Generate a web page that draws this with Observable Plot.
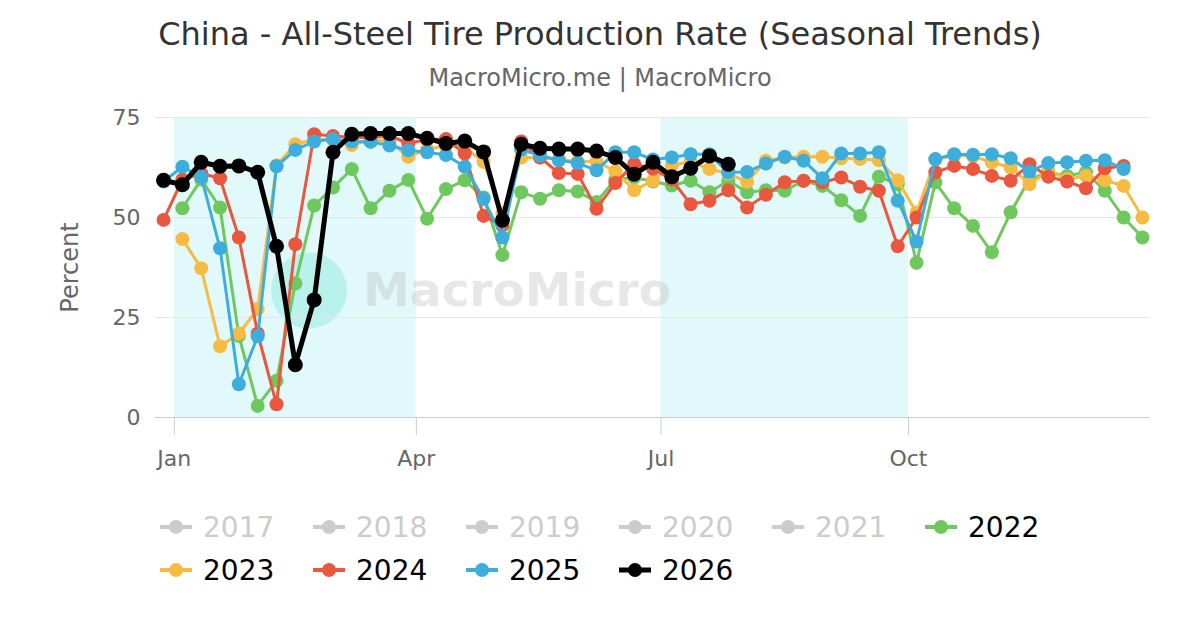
<!DOCTYPE html>
<html><head><meta charset="utf-8">
<script src="https://cdn.jsdelivr.net/npm/d3@7"></script>
<script src="https://cdn.jsdelivr.net/npm/@observablehq/plot@0.6"></script>
<style>
body{margin:0;background:#fff;font-family:"DejaVu Sans",sans-serif;}
#wrap{position:relative;width:1200px;height:630px;overflow:hidden;background:#fff;}
#title{position:absolute;left:0;width:1200px;top:14px;text-align:center;font-size:32px;line-height:40px;color:#333;}
#subtitle{position:absolute;left:0;width:1200px;top:63px;text-align:center;font-size:24px;line-height:30px;color:#666;}
#chart{position:absolute;left:0;top:100px;}
.item{position:absolute;height:30px;display:flex;align-items:center;font-size:28px;white-space:nowrap;}
.item svg{margin-right:11px;}
</style></head><body>
<div id="wrap">
  <div id="title">China - All-Steel Tire Production Rate (Seasonal Trends)</div>
  <div id="subtitle">MacroMicro.me | MacroMicro</div>
  <div id="chart"></div>
  <div id="legend"></div>
</div>
<script>
// ---- data ----
const legendYears = ["2017","2018","2019","2020","2021","2022","2023","2024","2025","2026"];
const seriesYears = ["2022","2023","2024","2025","2026"];
const seriesColors = ["#6ec85e","#f7bb43","#e9573f","#3daedb","#000000"];
const firstWeekOffset = [3, 3, -4, -4, -4]; // days from Jan 1 to first weekly reading

const v2022 = [52.3,59.5,52.5,20.4,2.9,9.2,33.5,53,57.5,62.1,52.3,56.7,59.4,49.7,57.1,59.3,55,40.6,56.3,54.7,56.8,56.5,53.9,59.5,60,59,58,59.2,56.3,59.2,56.3,56.8,56.7,59.2,57.9,54.3,50.4,60.2,58.3,38.7,58.8,52.3,47.9,41.3,51.3,59.6,61.3,60.4,61.3,56.7,50,45];
const v2023 = [44.6,37.3,17.8,21,27.1,63,68.3,69.5,69.5,68.1,69.5,69,65.2,67,68,67.5,63.9,51,65,65,64.5,64,64,61.5,56.8,59.2,63,64,62.1,61,58.9,64.2,65,65.2,65.2,64.8,64.6,64.3,59.3,51.2,64.5,65.5,65.3,63.8,62.5,58.3,61.7,59.6,60.4,59.3,57.9,50];
const v2024 = [49.4,59.5,61,59.8,45,21,3.3,43.3,70.8,70.4,70,70,70.5,68.5,69.5,69.6,66,50.4,48,69,65,61.1,60.9,52.2,58.6,63.4,62.2,59.5,53.3,54.2,56.8,52.5,55.7,58.8,59.2,58.8,60,57.7,56.7,42.8,50,61.3,62.9,62.1,60.4,59.2,63.3,60.2,59,57.3,62.3,62.9];
const v2025 = [59,62.7,60.2,42.3,8.3,20.3,62.8,66.9,69,69.6,69,68.9,68,66.8,66.3,65.6,62.7,54.6,45,67,65.5,64.3,63.6,61.8,66.3,66.3,64.5,65,65.8,65.8,61.3,61.4,63.5,65.2,64.2,59.8,66,66,66.3,54.2,44,64.6,65.8,65.7,65.8,64.8,61.5,63.6,63.8,64.2,64.3,62.1];
const v2026 = [59.3,58.2,63.8,62.8,62.9,61.3,42.8,13.2,29.4,66.3,70.8,71,71,71,69.8,68.5,69.1,66.4,49.3,68.3,67.3,67.1,67.1,66.6,65,60.8,63.8,60.2,62.3,65.4,63.3];
const seriesValues = [v2022, v2023, v2024, v2025, v2026];

const shadeStarts = ["2026-01-01","2026-07-01"];
const shadeEnds = ["2026-04-01","2026-10-01"];
const xTicks = ["2026-01-01","2026-04-01","2026-07-01","2026-10-01"];
const yTicks = [0,25,50,75];

// ---- build ----
const DAY = 864e5;
const base = Date.UTC(2026,0,1);
const rows = [];
seriesYears.forEach((yr, si) => {
  seriesValues[si].forEach((v, i) => {
    rows.push({year: yr, date: new Date(base + (firstWeekOffset[si] + 7*i)*DAY), value: v});
  });
});
const shade = shadeStarts.map((s,i)=>({start:new Date(s), end:new Date(shadeEnds[i])}));

const seriesMarks = [];
seriesYears.forEach((yr, si) => {
  const d = rows.filter(r => r.year === yr);
  const isLast = yr === "2026";
  seriesMarks.push(Plot.line(d, {x:"date", y:"value", stroke: seriesColors[si], strokeWidth: isLast ? 5 : 3, curve:"linear"}));
  seriesMarks.push(Plot.dot(d, {x:"date", y:"value", fill: seriesColors[si], r: isLast ? 7.5 : 7, stroke:"none"}));
});

const chart = Plot.plot({
  width: 1200, height: 400,
  marginTop: 17, marginBottom: 83, marginLeft: 155, marginRight: 50,
  style: {fontFamily: "DejaVu Sans", background: "transparent", overflow: "visible"},
  x: {type: "utc", domain: [new Date(Date.UTC(2025,11,25)), new Date(Date.UTC(2026,11,30))]},
  y: {domain: [0,75]},
  marks: [
    Plot.rect(shade, {x1:"start", x2:"end", y1: () => 0, y2: () => 75, fill:"#e1f9fa"}),
    Plot.dot([0], {frameAnchor:"middle", dx:-344, dy:23, r:38, fill:"#6fe3d4", fillOpacity:0.35}),
    Plot.text(["MacroMicro"], {frameAnchor:"middle", textAnchor:"start", dx:-290, dy:23, fontSize:47, fontWeight:"bold", fill:"#bbbbbb", fillOpacity:0.35}),
    Plot.gridY([25,50,75], {stroke:"#e6e6e6", strokeOpacity:1}),
    Plot.ruleY([0], {stroke:"#cccccc"}),
    Plot.axisX(xTicks.map(s=>new Date(s)), {tickSize:18, tickPadding:15, stroke:"#cccccc", fill:"#666", fontSize:22, tickFormat: d3.utcFormat("%b"), label:null}),
    Plot.axisY(yTicks, {tickSize:0, tickPadding:15, fill:"#666", fontSize:22, label:null}),
    Plot.text(["Percent"], {frameAnchor:"left", textAnchor:"middle", dx:-85, rotate:-90, fontSize:24, fill:"#666"}),
    ...seriesMarks
  ]
});
document.getElementById("chart").appendChild(chart);

// ---- legend ----
const legend = document.getElementById("legend");
legendYears.forEach((yr, i) => {
  const row = i < 6 ? 0 : 1;
  const col = i < 6 ? i : i - 6;
  const si = seriesYears.indexOf(yr);
  const active = si >= 0;
  const color = active ? seriesColors[si] : "#cccccc";
  const lw = yr === "2026" ? 5 : 4;
  const div = document.createElement("div");
  div.className = "item";
  div.style.left = (160 + 153*col) + "px";
  div.style.top = (row === 0 ? 512 : 555) + "px";
  div.style.color = active ? "#000" : "#cccccc";
  div.innerHTML = `<svg width="32" height="16"><line x1="0" y1="8" x2="32" y2="8" stroke="${color}" stroke-width="${lw}" stroke-linecap="round"/><circle cx="16" cy="8" r="7" fill="${color}"/></svg><span>${yr}</span>`;
  legend.appendChild(div);
});
</script>
</body></html>
